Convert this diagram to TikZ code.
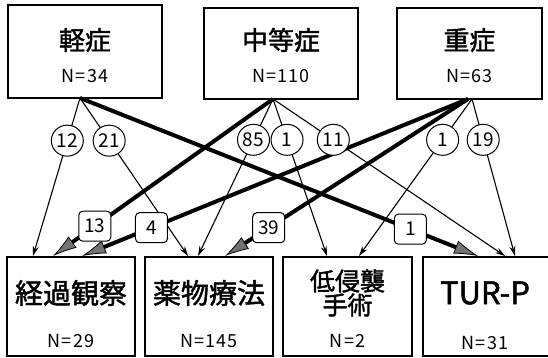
\documentclass[tikz,border=0pt]{standalone}
\usepackage{fontspec}
\setmainfont{Noto Sans CJK JP}
\newfontfamily\jpb[FakeBold=1.6]{Noto Sans CJK JP}
\newfontfamily\nfont[LetterSpace=6]{Noto Sans CJK JP}
\usetikzlibrary{arrows.meta,calc,shapes.geometric}
\tikzset{
  box/.style={draw, line width=1.1pt, inner sep=0pt},
  ttl/.style={font=\jpb\fontsize{26}{28}\selectfont, inner sep=0pt},
  btl/.style={font=\jpb\fontsize{28}{30}\selectfont, inner sep=0pt},
  ntxt/.style={font=\nfont\fontsize{18}{20}\selectfont, inner sep=0pt},
  thinarr/.style={line width=1.1pt, -{Stealth[length=10pt,width=6pt]}},
  thickarr/.style={line width=4pt, -{Latex[length=24pt,width=14pt,fill=black!55,line width=0.8pt]}},
  circlab/.style={ellipse, draw, line width=1pt, fill=white, minimum width=32pt, minimum height=31pt, inner sep=0pt, font=\fontsize{19}{21}\selectfont},
  sqlab/.style={draw, line width=1pt, rounded corners=4pt, fill=white, minimum width=32pt, minimum height=30pt, inner sep=0pt, font=\fontsize{19}{21}\selectfont}
}
\begin{document}
\begin{tikzpicture}[x=1pt,y=-1pt]
\useasboundingbox (0,0) rectangle (548,358);
% top boxes
\node[box, minimum width=154pt, minimum height=93pt] (mild) at (85,51.5) {};
\node[box, minimum width=154pt, minimum height=91pt] (mod) at (281,53.5) {};
\node[box, minimum width=145pt, minimum height=91pt] (sev) at (469.5,53.5) {};
\node[ttl] (mildT) at (85,40) {軽症};
\node[ntxt] (mildN) at (85,76) {N=34};
\node[ttl] (modT) at (281,40) {中等症};
\node[ntxt] (modN) at (281,76) {N=110};
\node[ttl] (sevT) at (469.5,40) {重症};
\node[ntxt] (sevN) at (469.5,76) {N=63};
% bottom boxes
\node[box, minimum width=128pt, minimum height=99pt] (obs) at (71,306.5) {};
\node[box, minimum width=128pt, minimum height=99pt] (med) at (209,306.5) {};
\node[box, minimum width=129pt, minimum height=99pt] (mis) at (347.5,306.5) {};
\node[box, minimum width=127pt, minimum height=99pt] (tur) at (486.5,306.5) {};
\node[btl] (obsT) at (71,293) {経過観察};
\node[ntxt] (obsN) at (71,341) {N=29};
\node[btl] (medT) at (209,293) {薬物療法};
\node[ntxt] (medN) at (209,341) {N=145};
\node[font=\jpb\fontsize{25}{27}\selectfont, inner sep=0pt] (misT1) at (347.5,281) {低侵襲};
\node[font=\jpb\fontsize{25}{27}\selectfont, inner sep=0pt] (misT2) at (347.5,305) {手術};
\node[ntxt] (misN) at (347.5,341) {N=2};
\node[font=\jpb\fontsize{31}{33}\selectfont, inner sep=0pt] (turT) at (485,293) {TUR-P};
\node[ntxt] (turN) at (485,343) {N=31};
% origins and tips
\coordinate (oA) at (80,98);
\coordinate (oB) at (273,99);
\coordinate (oC) at (472,99);
\coordinate (oCt) at (468,99);
\coordinate (t12) at (33,256);
\coordinate (t13) at (53,256);
\coordinate (t4) at (82,256);
\coordinate (t21) at (188,256);
\coordinate (t85) at (198,256);
\coordinate (t39) at (225,256);
\coordinate (t1b) at (327,256);
\coordinate (t1c) at (359,256);
\coordinate (t1s) at (478,256);
\coordinate (t11) at (505,256);
\coordinate (t19) at (515,256);
% thin connectors
\draw[thinarr] (oA) -- (t12);
\draw[thinarr] (oA) -- (t21);
\draw[thinarr] (oB) -- (t85);
\draw[thinarr] (oB) -- (t1b);
\draw[thinarr] (oB) -- (t11);
\draw[thinarr] (oC) -- (t1c);
\draw[thinarr] (oC) -- (t19);
% thick connectors
\draw[thickarr] (oA) -- (t1s);
\draw[thickarr] (oB) -- (t13);
\draw[thickarr] (oCt) -- (t4);
\draw[thickarr] (oCt) -- (t39);
% labels
\node[circlab] (l12) at ($(oA)!0.27!(t12)$) {12};
\node[circlab] (l21) at ($(oA)!0.27!(t21)$) {21};
\node[circlab] (l85) at ($(oB)!0.26!(t85)$) {85};
\node[circlab] (l1b) at ($(oB)!0.26!(t1b)$) {1};
\node[circlab] (l11) at ($(oB)!0.26!(t11)$) {11};
\node[circlab] (l1c) at ($(oC)!0.26!(t1c)$) {1};
\node[circlab] (l19) at ($(oC)!0.26!(t19)$) {19};
\node[sqlab] (l13) at ($(oB)!0.81!(t13)$) {13};
\node[sqlab] (l4) at ($(oCt)!0.82!(t4)$) {4};
\node[sqlab] (l39) at ($(oCt)!0.82!(t39)$) {39};
\node[sqlab] (l1s) at ($(oA)!0.83!(t1s)$) {1};
\end{tikzpicture}
\end{document}
